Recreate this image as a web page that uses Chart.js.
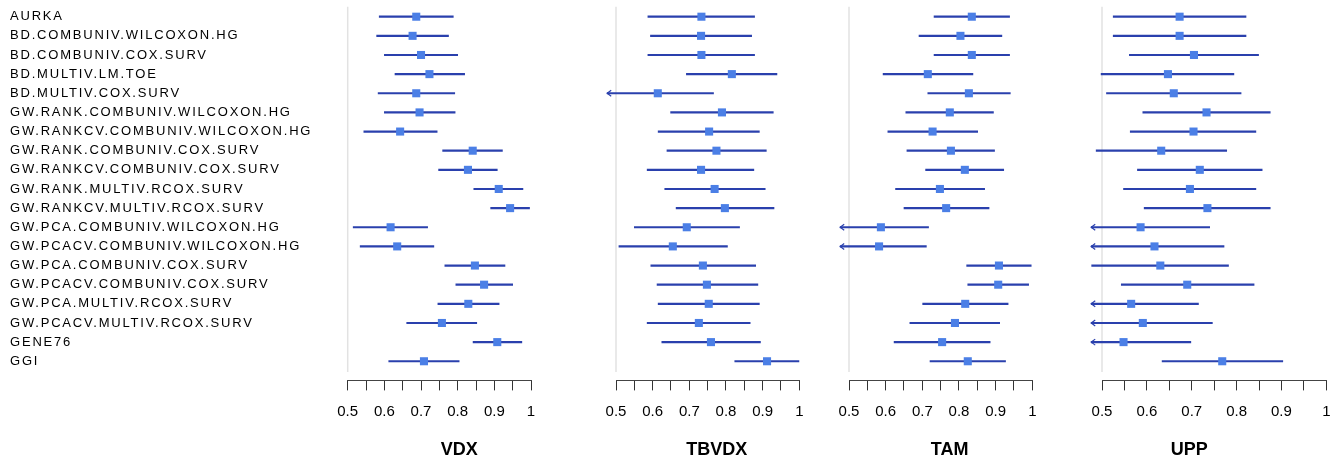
<!DOCTYPE html>
<html>
<head>
<meta charset="utf-8">
<script src="https://cdn.jsdelivr.net/npm/chart.js@4.4.1/dist/chart.umd.min.js"></script>
<style>
    body { margin: 0; background: #fff; }
    #wrap { position: relative; width: 1330px; height: 459px; overflow: hidden; }
    #wrap canvas { position: absolute; top: 0; }
</style>
</head>
<body>
<div id="wrap"></div>
<script>
const categories = [
    "AURKA", "BD.COMBUNIV.WILCOXON.HG", "BD.COMBUNIV.COX.SURV", "BD.MULTIV.LM.TOE",
    "BD.MULTIV.COX.SURV", "GW.RANK.COMBUNIV.WILCOXON.HG", "GW.RANKCV.COMBUNIV.WILCOXON.HG",
    "GW.RANK.COMBUNIV.COX.SURV", "GW.RANKCV.COMBUNIV.COX.SURV", "GW.RANK.MULTIV.RCOX.SURV",
    "GW.RANKCV.MULTIV.RCOX.SURV", "GW.PCA.COMBUNIV.WILCOXON.HG", "GW.PCACV.COMBUNIV.WILCOXON.HG",
    "GW.PCA.COMBUNIV.COX.SURV", "GW.PCACV.COMBUNIV.COX.SURV", "GW.PCA.MULTIV.RCOX.SURV",
    "GW.PCACV.MULTIV.RCOX.SURV", "GENE76", "GGI"
];

const panelNames = ["VDX", "TBVDX", "TAM", "UPP"];
const xTicks = [0.5, 0.55, 0.6, 0.65, 0.7, 0.75, 0.8, 0.85, 0.9, 0.95, 1];

const vdxEst  = [0.687, 0.677, 0.700, 0.723, 0.687, 0.696, 0.643, 0.841, 0.828, 0.912, 0.943, 0.617, 0.635, 0.847, 0.872, 0.829, 0.757, 0.908, 0.708];
const vdxLow  = [0.586, 0.579, 0.600, 0.629, 0.583, 0.600, 0.544, 0.759, 0.748, 0.844, 0.890, 0.515, 0.534, 0.765, 0.795, 0.746, 0.661, 0.842, 0.612];
const vdxHigh = [0.788, 0.775, 0.800, 0.819, 0.792, 0.793, 0.744, 0.922, 0.908, 0.978, 0.996, 0.718, 0.735, 0.929, 0.950, 0.913, 0.852, 0.975, 0.804];

const tbvdxEst  = [0.733, 0.732, 0.733, 0.816, 0.614, 0.789, 0.754, 0.774, 0.732, 0.769, 0.797, 0.693, 0.655, 0.737, 0.748, 0.753, 0.726, 0.759, 0.912];
const tbvdxLow  = [0.587, 0.594, 0.587, 0.692, 0.462, 0.649, 0.615, 0.639, 0.585, 0.633, 0.664, 0.550, 0.508, 0.595, 0.612, 0.615, 0.585, 0.625, 0.824];
const tbvdxHigh = [0.878, 0.870, 0.878, 0.939, 0.766, 0.929, 0.891, 0.910, 0.876, 0.907, 0.931, 0.837, 0.804, 0.881, 0.887, 0.891, 0.866, 0.894, 0.999];

const tamEst  = [0.835, 0.804, 0.835, 0.715, 0.827, 0.775, 0.728, 0.778, 0.816, 0.748, 0.765, 0.587, 0.582, 0.909, 0.907, 0.817, 0.789, 0.754, 0.824];
const tamLow  = [0.732, 0.691, 0.732, 0.593, 0.715, 0.655, 0.606, 0.658, 0.709, 0.627, 0.650, 0.457, 0.453, 0.821, 0.824, 0.701, 0.666, 0.623, 0.721];
const tamHigh = [0.938, 0.917, 0.938, 0.838, 0.940, 0.894, 0.851, 0.897, 0.922, 0.870, 0.882, 0.717, 0.711, 0.997, 0.990, 0.934, 0.911, 0.885, 0.927];

const uppEst  = [0.673, 0.673, 0.705, 0.647, 0.660, 0.733, 0.704, 0.632, 0.718, 0.696, 0.735, 0.586, 0.617, 0.630, 0.690, 0.565, 0.591, 0.548, 0.768];
const uppLow  = [0.525, 0.525, 0.561, 0.498, 0.510, 0.591, 0.563, 0.487, 0.579, 0.548, 0.594, 0.432, 0.462, 0.477, 0.543, 0.415, 0.436, 0.398, 0.634];
const uppHigh = [0.821, 0.821, 0.849, 0.794, 0.810, 0.875, 0.843, 0.778, 0.857, 0.843, 0.875, 0.740, 0.772, 0.782, 0.839, 0.715, 0.746, 0.698, 0.903];

const panelData = [
    {est: vdxEst, low: vdxLow, high: vdxHigh},
    {est: tbvdxEst, low: tbvdxLow, high: tbvdxHigh},
    {est: tamEst, low: tamLow, high: tamHigh},
    {est: uppEst, low: uppLow, high: uppHigh}
];

// page layout of each panel (chart area edges in px)
const panelBoxes = [
    {left: 347.7, right: 531, titleShift: 20},
    {left: 616, right: 799.3, titleShift: 9},
    {left: 849, right: 1032.3, titleShift: 9},
    {left: 1101.7, right: 1326, titleShift: -25}
];
const H = 459;
const AREA_TOP = 16.7;
const AREA_BOTTOM = 380.4;
const SIDE_PAD = 30;
const CLIP_MIN = 0.476;   // intervals reaching below this get an arrow
const LINE = "#2a40ad";
const BOX = "#4b7fe6";
const FONT = "'Liberation Sans', Arial, Helvetica, sans-serif";

const forestExtras = {
    id: "forestExtras",
    beforeDatasetsDraw(chart) {
        const {ctx, chartArea, scales: {x}} = chart;
        const px = x.getPixelForValue(0.5);
        ctx.save();
        ctx.strokeStyle = "#e2e2e2";
        ctx.lineWidth = 1.5;
        ctx.beginPath();
        ctx.moveTo(px, chartArea.top - 10);
        ctx.lineTo(px, chartArea.bottom - 8.5);
        ctx.stroke();
        ctx.restore();
    },
    afterDatasetsDraw(chart, args, opts) {
        const {ctx, scales: {x, y}} = chart;
        ctx.save();
        ctx.strokeStyle = LINE;
        ctx.lineWidth = 1.2;
        opts.low.forEach((lo, i) => {
            if (lo >= CLIP_MIN) return;
            const ax = x.getPixelForValue(CLIP_MIN);
            const ay = y.getPixelForValue(i);
            ctx.beginPath();
            ctx.moveTo(ax + 4, ay - 3);
            ctx.lineTo(ax, ay);
            ctx.lineTo(ax + 4, ay + 3);
            ctx.stroke();
        });
        ctx.restore();
        // row labels are drawn after this (ticks z = 1), a bit wider
        if (opts.wideLabels) ctx.letterSpacing = "1.8px";
    },
    afterDraw(chart, args, opts) {
        const {ctx, chartArea} = chart;
        ctx.letterSpacing = "0px";
        ctx.save();
        ctx.font = "bold 18px " + FONT;
        ctx.fillStyle = "#000";
        ctx.textAlign = "center";
        ctx.textBaseline = "alphabetic";
        ctx.fillText(opts.title, (chartArea.left + chartArea.right) / 2 + opts.titleShift, 455);
        ctx.restore();
    }
};

const wrap = document.getElementById("wrap");

panelBoxes.forEach((box, k) => {
    const first = k === 0;
    const canvasLeft = first ? 0 : box.left - SIDE_PAD;
    const canvasRight = box.right + SIDE_PAD;
    const canvas = document.createElement("canvas");
    canvas.width = Math.round(canvasRight - canvasLeft);
    canvas.height = H;
    canvas.style.left = canvasLeft + "px";
    wrap.appendChild(canvas);

    const d = panelData[k];
    const points = d.est.map((v, i) => ({x: v, y: i}));
    const bars = d.low.map((lo, i) => ({x: [Math.max(lo, CLIP_MIN), d.high[i]], y: i}));

    new Chart(canvas.getContext("2d"), {
        type: "bar",
        data: {
            datasets: [
                {
                    type: "scatter",
                    data: points,
                    backgroundColor: BOX,
                    borderWidth: 0,
                    pointStyle: "rect",
                    pointRadius: 5.7,
                    showLine: false,
                    clip: false,
                    order: 0
                },
                {
                    data: bars,
                    backgroundColor: LINE,
                    borderWidth: 0,
                    barThickness: 1.5,
                    grouped: false,
                    clip: false,
                    order: 1
                }
            ]
        },
        options: {
            indexAxis: "y",
            responsive: false,
            animation: false,
            events: [],
            layout: {
                padding: {
                    left: first ? 10 : box.left - canvasLeft,
                    right: canvas.width - (box.right - canvasLeft),
                    top: AREA_TOP,
                    bottom: 0
                }
            },
            plugins: {
                legend: {display: false},
                tooltip: {enabled: false},
                forestExtras: {
                    low: d.low,
                    title: panelNames[k],
                    titleShift: box.titleShift,
                    wideLabels: first
                }
            },
            scales: {
                x: {
                    type: "linear",
                    min: 0.5,
                    max: 1,
                    afterBuildTicks: scale => { scale.ticks = xTicks.map(v => ({value: v})); },
                    afterFit: scale => { scale.height = H - AREA_BOTTOM; },
                    grid: {drawOnChartArea: false, drawTicks: true, tickLength: 10, tickColor: "#333", tickWidth: 1},
                    border: {display: true, color: "#444", width: 1},
                    ticks: {
                        autoSkip: false,
                        maxRotation: 0,
                        padding: 12,
                        color: "#000",
                        font: {family: FONT, size: 15},
                        callback: v => (Math.round(v * 100) % 10 === 0 ? String(+v.toFixed(1)) : "")
                    }
                },
                y: {
                    type: "linear",
                    reverse: true,
                    offset: false,
                    min: 0,
                    max: 19,
                    display: first,
                    afterBuildTicks: scale => { scale.ticks = categories.map((c, i) => ({value: i})); },
                    afterFit: scale => { if (first) scale.width = box.left - 10; },
                    grid: {display: false, offset: false},
                    border: {display: false},
                    ticks: {
                        autoSkip: false,
                        crossAlign: "far",
                        z: 1,
                        color: "#000",
                        font: {family: FONT, size: 13},
                        callback: v => categories[v]
                    }
                }
            }
        },
        plugins: [forestExtras]
    });
});
</script>
</body>
</html>
